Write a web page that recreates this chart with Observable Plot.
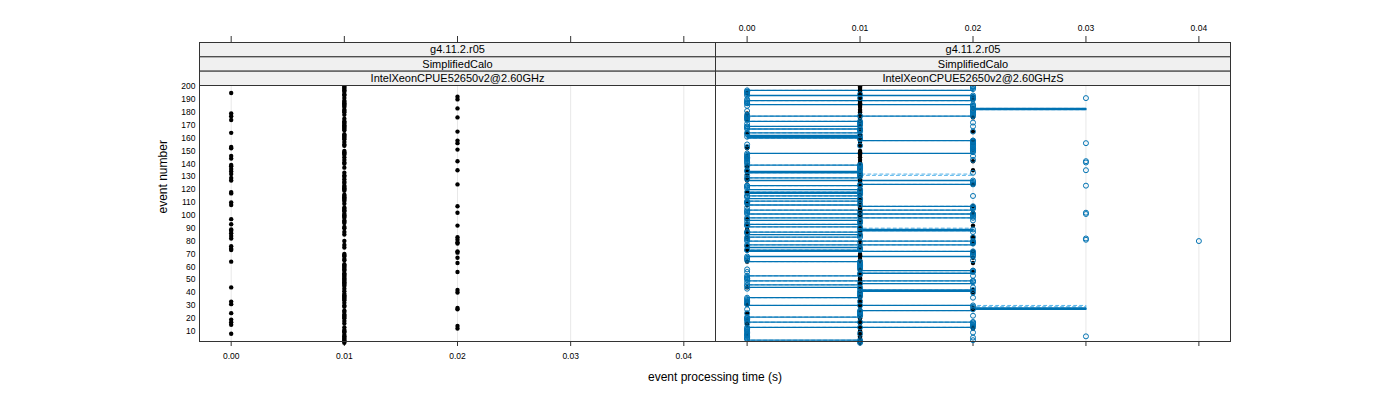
<!DOCTYPE html>
<html><head><meta charset="utf-8">
<script src="https://cdn.jsdelivr.net/npm/d3@7"></script>
<script src="https://cdn.jsdelivr.net/npm/@observablehq/plot@0.6"></script>
<style>
body{margin:0;background:#fff;}
#wrap{position:relative;width:1400px;height:400px;font-family:"Liberation Sans",Arial,sans-serif;color:#000;}
#wrap svg{position:absolute;top:0;overflow:visible;}
#xlab{position:absolute;left:0;width:1430px;top:370px;text-align:center;font-size:12px;}
</style></head><body><div id="wrap"><div id="xlab">event processing time (s)</div></div>
<script>
// ---------- data ----------
const eventNumbers = d3.range(1, 201);
const stripTop = "g4.11.2.r05";
const stripMid = "SimplifiedCalo";
const stripLeft = "IntelXeonCPUE52650v2@2.60GHz";
const stripRight = "IntelXeonCPUE52650v2@2.60GHzS";
const xTicks = [0, 0.01, 0.02, 0.03, 0.04];
const xTickLabels = ["0.00", "0.01", "0.02", "0.03", "0.04"];
const yTicks = [10,20,30,40,50,60,70,80,90,100,110,120,130,140,150,160,170,180,190,200];

// reference run (black): events at 0.00 s and 0.02 s, all others 0.01 s
const refAt000 = [8,15,17,19,24,31,33,44,64,73,74,76,82,84,86,88,89,93,97,108,110,117,118,127,129,132,134,136,138,139,144,146,152,153,164,174,177,179,195];
const refAt002 = [12,14,27,28,40,42,56,63,67,71,72,78,79,81,83,92,102,107,124,135,142,151,156,158,165,176,183,190,192];

// second configuration, solid run (blue line): events at 0.00, 0.02, 0.03 s, others 0.01 s
const newAt000 = [4,5,6,7,8,9,10,11,12,13,18,19,20,21,31,32,33,34,35,36,45,46,50,51,52,53,65,66,67,68,73,76,77,81,82,83,86,87,92,93,97,98,102,103,104,109,110,111,114,115,118,121,122,123,128,129,134,140,141,142,143,144,145,146,147,148,161,163,164,168,169,174,175,176,177,187,188,189,194,195,196,197];
const newAt002 = [14,15,16,17,27,29,30,42,48,49,56,57,69,70,71,72,78,79,80,89,99,100,101,105,106,107,125,126,127,149,150,151,152,153,154,155,156,157,158,178,179,180,181,182,184,185,186,190,191,192,193,198,199,200];
const newAt003 = [28,183];
// dashed repeat run: differs from the solid one only at these events
const dashEvents = [30, 90, 132];
const dashTimes  = [0.03, 0.02, 0.02];
// further circles of the repeat runs
const runCircles000 = [196,193,190,187,185,181,178,176,171,169,167,155,153,145,138,135,131,123,115,110,106,101,95,92,87,80,73,58,56,51,48,43,31,27,24,20,16,11,7,4];
const runCircles001 = [194,191,177,167,154,139,136,123,118,110,102,100,83,79,73,33,30,25,22,17,13,8];
const runCircles002 = [200,191,185,181,177,172,169,165,158,155,152,150,146,143,133,124,115,106,101,98,96,87,83,79,68,65,57,53,49,44,40,36,22,17,13,9,5,3];
const slowEvents = [6,80,81,82,101,102,123,135,141,142,156,191];
const slowTimes  = [0.03,0.04,0.03,0.03,0.03,0.03,0.03,0.03,0.03,0.03,0.03,0.03];

// ---------- tables ----------
const ref = eventNumbers.map(e => ({event: e, t: refAt000.includes(e) ? 0 : refAt002.includes(e) ? 0.02 : 0.01}));
const solid = eventNumbers.map(e => ({event: e, t: newAt000.includes(e) ? 0 : newAt002.includes(e) ? 0.02 : newAt003.includes(e) ? 0.03 : 0.01}));
const dashed = solid.map(d => { const i = dashEvents.indexOf(d.event); return i >= 0 ? {event: d.event, t: dashTimes[i]} : d; });
const circles = solid.filter(d => d.t <= 0.02)
  .concat(runCircles000.map(e => ({event: e, t: 0})))
  .concat(runCircles001.map(e => ({event: e, t: 0.01})))
  .concat(runCircles002.map(e => ({event: e, t: 0.02})))
  .concat(slowEvents.map((e, i) => ({event: e, t: slowTimes[i]})));

// ---------- layout ----------
const H = 400, MT = 85, MB = 59, PH = H - MT - MB;
const SH = (MT - 42) / 3;
const xDomain = [-0.0028, 0.0428];
const yDomain = [2.0, 200.78];
const ink = "#333333";
const blue = "#0072B2";
const lightBlue = "#56B4E9";
const style = {fontFamily: "Liberation Sans, Arial, sans-serif", fontSize: "8px", background: "transparent", overflow: "visible"};

function stripMarks(bottomLabel) {
  const labels = [stripTop, stripMid, bottomLabel];
  const frames = [], texts = [];
  labels.forEach((lab, i) => {
    const top = 42 + i * SH;
    frames.push(Plot.frame({fill: "#f0f0f0", stroke: ink, strokeWidth: 1, insetTop: -(MT - top), insetBottom: PH + (MT - top - SH)}));
    texts.push(Plot.text([lab], {text: d => d, frameAnchor: "top", lineAnchor: "middle", dy: -(MT - top - SH / 2), fontSize: 11, fill: "#000"}));
  });
  return frames.concat(texts);
}

function commonMarks() {
  return [
    Plot.ruleX(xTicks, {x: d => d, stroke: "#e8e8e8", strokeWidth: 1}),
    Plot.ruleX(xTicks, {x: d => d, stroke: ink, insetTop: -(MT - 42 + 6), insetBottom: PH + (MT - 42)}),
    Plot.ruleX(xTicks, {x: d => d, stroke: ink, insetTop: PH, insetBottom: -5}),
  ];
}

const left = Plot.plot({
  width: 715, height: H, marginLeft: 199, marginRight: 0, marginTop: MT, marginBottom: MB,
  style,
  x: {domain: xDomain, axis: null},
  y: {domain: yDomain, axis: null},
  marks: [
    ...commonMarks(),
    Plot.axisY(yTicks, {anchor: "left", tickSize: 0, tickPadding: 4, fontSize: 8.5, label: null, fill: "#000"}),
    Plot.text(xTicks, {x: d => d, text: (d, i) => xTickLabels[i], frameAnchor: "bottom", lineAnchor: "middle", dy: 15, fontSize: 8.5, fill: "#000"}),
    Plot.text(["event number"], {text: d => d, frameAnchor: "left", dx: -36, rotate: -90, fontSize: 12, fill: "#000"}),
    Plot.dot(ref, {x: "t", y: "event", r: 2.2, fill: "#000", stroke: null}),
    Plot.frame({stroke: ink}),
    ...stripMarks(stripLeft)
  ]
});
left.style.left = "0px";

const right = Plot.plot({
  width: 685, height: H, marginLeft: 0, marginRight: 170, marginTop: MT, marginBottom: MB,
  style,
  x: {domain: xDomain, axis: null},
  y: {domain: yDomain, axis: null},
  marks: [
    ...commonMarks(),
    Plot.text(xTicks, {x: d => d, text: (d, i) => xTickLabels[i], frameAnchor: "top", lineAnchor: "middle", dy: -(MT - 28), fontSize: 8.5, fill: "#000"}),
    Plot.line(dashed, {x: "t", y: "event", stroke: lightBlue, strokeWidth: 1, strokeDasharray: "3,3", curve: "step-after"}),
    Plot.line(solid, {x: "t", y: "event", stroke: blue, strokeWidth: 1.3, curve: "step-after"}),
    Plot.dot(ref, {x: "t", y: "event", r: 2.2, fill: "#000", stroke: null}),
    Plot.dot(circles, {x: "t", y: "event", r: 2.5, fill: "none", stroke: blue, strokeWidth: 1}),
    Plot.frame({stroke: ink}),
    ...stripMarks(stripRight)
  ]
});
right.style.left = "715px";

const wrap = document.getElementById("wrap");
wrap.appendChild(left);
wrap.appendChild(right);
</script>
</body></html>
